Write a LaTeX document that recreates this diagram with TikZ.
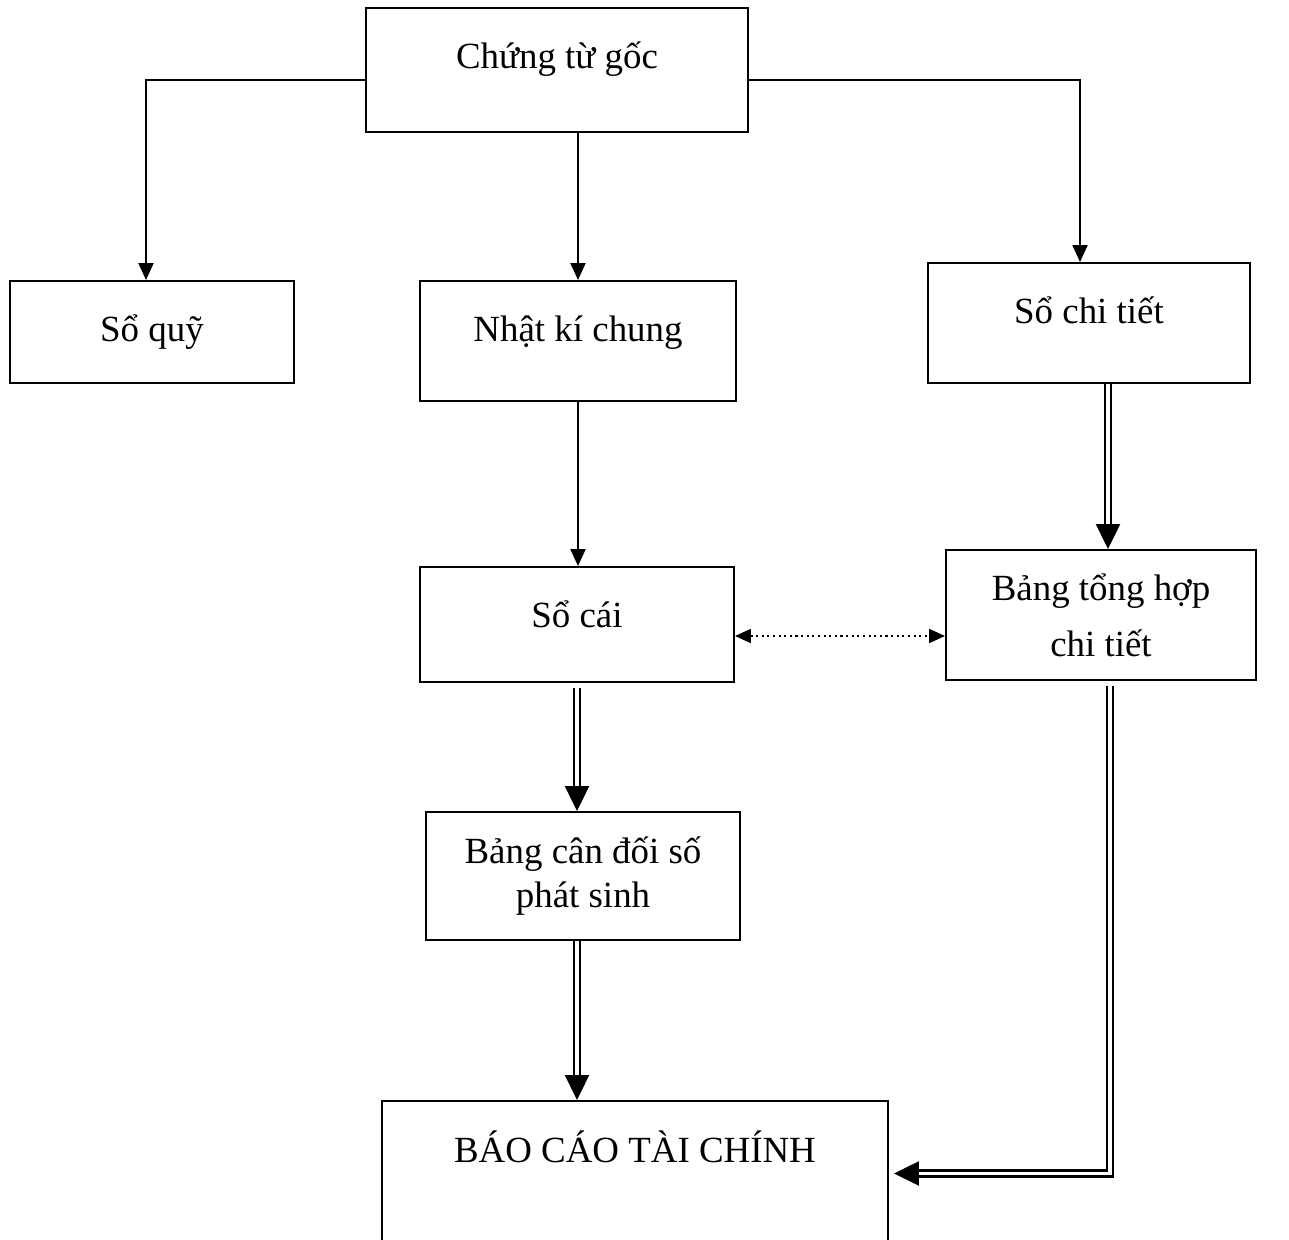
\documentclass[tikz,border=0pt]{standalone}
\usepackage{fontspec}
\setmainfont{Liberation Serif}
\usepackage{tikz}
\usetikzlibrary{arrows.meta,positioning}

\begin{document}
\begin{tikzpicture}[
		box/.style={draw,line width=1.1pt,align=center,font=\fontsize{21}{25}\selectfont},
		arrow/.style={-{Triangle[length=3.4mm,width=3mm]},line width=1.2pt},
		dblarrow/.style={-{Triangle[length=5mm,width=4.8mm]},double,double distance=2pt,line width=1.3pt},
		dotarrow/.style={{Triangle[length=3.2mm,width=2.8mm]}-{Triangle[length=3.2mm,width=2.8mm]},dotted,line width=1.2pt}
		]
		\useasboundingbox (0,0) rectangle (25.78,-24.8);
		\node[box,minimum width=7.64cm,minimum height=2.48cm,text depth=0.6cm] (goc) at (11.14,-1.40) {Chứng từ gốc};
		\node[box,minimum width=5.68cm,minimum height=2.04cm] (quy) at (3.04,-6.64) {Sổ quỹ};
		\node[box,minimum width=6.32cm,minimum height=2.4cm,text depth=0.5cm] (nhatki) at (11.56,-6.82) {Nhật kí chung};
		\node[box,minimum width=6.44cm,minimum height=2.4cm,text depth=0.5cm] (chitiet) at (21.78,-6.46) {Sổ chi tiết};
		\node[box,minimum width=6.28cm,minimum height=2.3cm,text depth=0.4cm] (socai) at (11.54,-12.49) {Sổ cái};
		\node[box,minimum width=6.2cm,minimum height=2.6cm] (tonghop) at (22.02,-12.30) {Bảng tổng hợp\\[7pt]chi tiết};
		\node[box,minimum width=6.28cm,minimum height=2.56cm] (candoi) at (11.66,-17.52) {Bảng cân đối số\\phát sinh};
		\node[box,anchor=north,minimum width=10.12cm,inner ysep=0pt,text height=1.24cm,text depth=1.76cm] (baocao) at (12.70,-22.0) {BÁO CÁO TÀI CHÍNH};
		\draw[arrow] ([yshift=-2mm]goc.west) -| ([xshift=-1.2mm]quy.north);
		\draw[arrow] ([yshift=-2mm]goc.east) -| ([xshift=-1.8mm]chitiet.north);
		\draw[arrow] (goc.south -| nhatki.north) -- (nhatki.north);
		\draw[arrow] (nhatki.south) -- (nhatki.south |- socai.north);
		\draw[dblarrow] ([yshift=-1mm]socai.south) -- (socai.south |- candoi.north);
		\draw[dblarrow] ([xshift=3.8mm]chitiet.south) -- ([xshift=3.8mm]chitiet.south |- tonghop.north);
		\draw[dotarrow] ([yshift=-2.3mm]socai.east) -- ([yshift=-2.3mm]socai.east -| tonghop.west);
		\draw[dblarrow] (socai.south |- candoi.south) -- (socai.south |- baocao.north);
		\draw[dblarrow] ([xshift=1.8mm,yshift=-1mm]tonghop.south) |- ([xshift=1mm,yshift=0.5mm]baocao.east);
	\end{tikzpicture}
\end{document}
